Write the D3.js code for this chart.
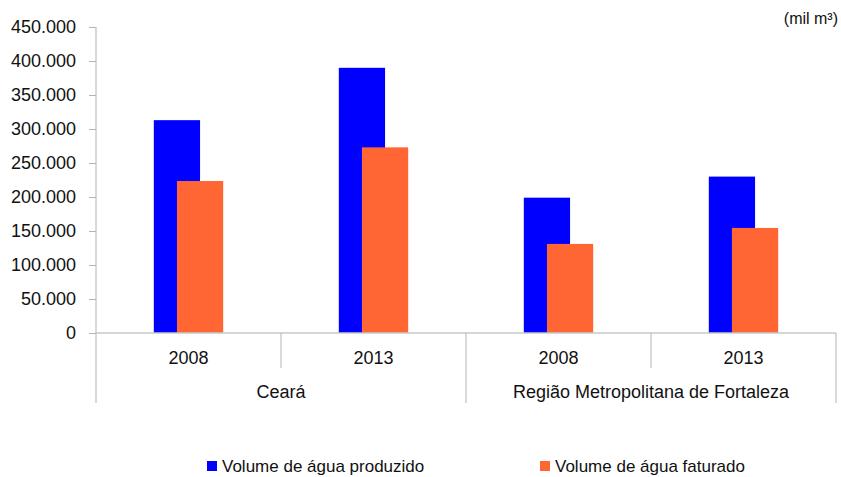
<!DOCTYPE html>
<html lang="pt">
	<head>
		<meta charset="utf-8">
		<title>Volume de água produzido e faturado</title>
		<script src="https://d3js.org/d3.v7.min.js"></script>
		<style type="text/css">
			body { margin: 0; background: #fff; }
			text { font-family: "Liberation Sans", Arial, sans-serif; fill: #111; }
		</style>
	</head>

	<body>
		<script type="text/javascript">
			// window setup
			var w = 841
			var h = 477

			// data
			var groups = ["Ceará", "Região Metropolitana de Fortaleza"]
			var years = ["2008", "2013"]
			var produzido = [313000, 390000, 199000, 230000]
			var faturado = [223500, 273000, 131000, 154500]
			var seriesNames = ["Volume de água produzido", "Volume de água faturado"]
			var seriesColors = ["#0000ff", "#ff6633"]
			var yTicks = [0, 50000, 100000, 150000, 200000, 250000, 300000, 350000, 400000, 450000]

			// one entry per year column
			var cats = []
			groups.forEach(function(g, gi) {
				years.forEach(function(y, yi) {
					cats.push({ id: g + "|" + y, group: g, year: y, idx: gi * years.length + yi })
				})
			})

			// plot edges (window.top is reserved, so plain names with a prefix)
			var pLeft = 96, pRight = 836, pTop = 27, pBottom = 333

			var x = d3.scaleBand()
						.domain(cats.map(function(d) { return d.id }))
						.range([pLeft, pRight])
						.padding(0)

			var xg = d3.scaleBand()
						.domain(groups)
						.range([pLeft, pRight])
						.padding(0)

			var y = d3.scaleLinear()
						.domain([0, 450000])
						.range([pBottom, pTop])

			var pt = d3.formatLocale({ decimal: ",", thousands: ".", grouping: [3], currency: ["", ""] })
			var fmt = pt.format(",")

			var svg = d3.select("body")
						.append("svg")
						.attr("width", w)
						.attr("height", h)

			// y axis
			var yAxis = svg.append("g")
							.attr("transform", "translate(" + pLeft + ",0)")
							.call(d3.axisLeft(y).tickValues(yTicks).tickFormat(fmt).tickSize(7).tickSizeOuter(0).tickPadding(13))
			yAxis.select(".domain").remove()
			yAxis.selectAll(".tick line").attr("stroke", "#b3b3b3")
			yAxis.selectAll(".tick text")
				.style("font-size", "18px")
				.attr("fill", "#111")

			// left vertical line down to the group label row
			svg.append("line")
				.attr("x1", pLeft).attr("x2", pLeft)
				.attr("y1", y(450000)).attr("y2", 403)
				.attr("stroke", "#b3b3b3")

			// bars: blue first, orange overlapping half of it
			var bw = x.bandwidth() * 0.25
			var shift = bw / 4

			svg.selectAll("rect.prod")
				.data(cats)
				.enter()
				.append("rect")
				.attr("class", "prod")
				.attr("x", function(d) { return x(d.id) + x.bandwidth() / 2 - shift - bw / 2 })
				.attr("y", function(d) { return y(produzido[d.idx]) })
				.attr("width", bw)
				.attr("height", function(d) { return y(0) - y(produzido[d.idx]) })
				.style("fill", seriesColors[0])

			svg.selectAll("rect.fat")
				.data(cats)
				.enter()
				.append("rect")
				.attr("class", "fat")
				.attr("x", function(d) { return x(d.id) + x.bandwidth() / 2 + shift - bw / 2 })
				.attr("y", function(d) { return y(faturado[d.idx]) })
				.attr("width", bw)
				.attr("height", function(d) { return y(0) - y(faturado[d.idx]) })
				.style("fill", seriesColors[1])

			// x axis baseline
			svg.append("line")
				.attr("x1", pLeft).attr("x2", pRight)
				.attr("y1", y(0)).attr("y2", y(0))
				.attr("stroke", "#c8c8c8")
				.attr("stroke-width", 1.5)

			// separators between years (short) and between groups (long)
			svg.selectAll("line.sep")
				.data(cats.slice(1))
				.enter()
				.append("line")
				.attr("class", "sep")
				.attr("x1", function(d) { return x(d.id) })
				.attr("x2", function(d) { return x(d.id) })
				.attr("y1", y(0))
				.attr("y2", function(d) { return years.indexOf(d.year) == 0 ? 403 : 368 })
				.attr("stroke", "#b3b3b3")

			svg.append("line")
				.attr("x1", pRight).attr("x2", pRight)
				.attr("y1", y(0)).attr("y2", 403)
				.attr("stroke", "#b3b3b3")

			// year labels
			svg.selectAll("text.year")
				.data(cats)
				.enter()
				.append("text")
				.attr("class", "year")
				.attr("x", function(d) { return x(d.id) + x.bandwidth() / 2 })
				.attr("y", 364)
				.attr("text-anchor", "middle")
				.style("font-size", "18px")
				.text(function(d) { return d.year })

			// group labels
			svg.selectAll("text.group")
				.data(groups)
				.enter()
				.append("text")
				.attr("class", "group")
				.attr("x", function(d) { return xg(d) + xg.bandwidth() / 2 })
				.attr("y", 398)
				.attr("text-anchor", "middle")
				.style("font-size", "18px")
				.text(function(d) { return d })

			// unit
			svg.append("text")
				.attr("x", 838)
				.attr("y", 24)
				.attr("text-anchor", "end")
				.style("font-size", "16px")
				.text("(mil m³)")

			// legend
			var legendX = [207, 540]
			var legend = svg.selectAll("g.legend")
							.data(seriesNames)
							.enter()
							.append("g")
							.attr("class", "legend")
							.attr("transform", function(d, i) { return "translate(" + legendX[i] + ",461)" })

			legend.append("rect")
				.attr("width", 10)
				.attr("height", 10)
				.style("fill", function(d, i) { return seriesColors[i] })

			legend.append("text")
				.attr("x", 15)
				.attr("y", 11)
				.style("font-size", "17px")
				.text(function(d) { return d })
		</script>
	</body>
</html>
